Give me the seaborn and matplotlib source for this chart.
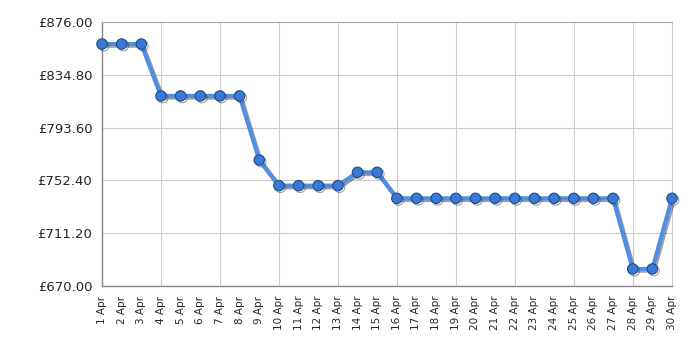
import matplotlib
matplotlib.use("Agg")
import matplotlib.pyplot as plt
import matplotlib.patheffects as pe
import seaborn as sns
import pandas as pd

days = list(range(1, 31))
labels = [f"{d} Apr" for d in days]
prices = [858.8, 858.8, 858.8, 818.3, 818.3, 818.3, 818.3, 818.3, 768.3, 748.3,
          748.3, 748.3, 748.3, 758.7, 758.7, 738.4, 738.4, 738.4, 738.4, 738.4,
          738.4, 738.4, 738.4, 738.4, 738.4, 738.4, 738.4, 683.3, 683.3, 738.4]
yticks = [670.00, 711.20, 752.40, 793.60, 834.80, 876.00]

df = pd.DataFrame({"day": days, "price": prices})

sns.set_style("white")
plt.rcParams['font.family'] = ['DejaVu Sans']

fig = plt.figure(figsize=(7, 3.5), dpi=100)
ax = fig.add_axes([102/700, 1-286/350, (672-102)/700, (286-22)/350])

sns.lineplot(data=df, x="day", y="price", ax=ax, color="#4f8fe3", linewidth=3,
             marker="o", markersize=7.5, markerfacecolor="#3b7ad4",
             markeredgecolor="#1d4c8f", markeredgewidth=0.8, zorder=5)
for line in ax.lines:
    line.set_path_effects([pe.SimpleLineShadow(offset=(1.2, -1.2), shadow_color="#444444", alpha=0.5),
                           pe.Normal()])
    line.set_clip_on(False)

ax.set_xlim(1, 30)
ax.set_ylim(670, 876)
ax.set_yticks(yticks)
ax.set_yticklabels([f"£{v:.2f}" for v in yticks], fontsize=9.5)
ax.xaxis.remove_overlapping_locs = False
ax.set_xticks(days)
ax.set_xticklabels(labels, rotation=90, fontsize=7.5)
ax.set_xticks(days[::3], minor=True)
ax.tick_params(axis="x", which="major", length=0, pad=7)
ax.tick_params(axis="x", which="minor", length=4, width=1, color="black", direction="out")
ax.tick_params(axis="y", length=5, width=1, color="black", direction="out", pad=2)
ax.grid(axis="y", which="major", color="#cccccc", linewidth=0.8)
ax.grid(axis="x", which="minor", color="#cccccc", linewidth=0.8)
ax.grid(axis="x", which="major", visible=False)
ax.set_axisbelow(True)
ax.set_xlabel("")
ax.set_ylabel("")
for s in ["left", "bottom"]:
    ax.spines[s].set_color("#888888")
    ax.spines[s].set_linewidth(1)
ax.spines["top"].set_color("#aaaaaa")
ax.spines["right"].set_color("#cccccc")
ax.spines["top"].set_linewidth(0.8)
ax.spines["right"].set_linewidth(0.8)

fig.savefig("out.png", dpi=100)
